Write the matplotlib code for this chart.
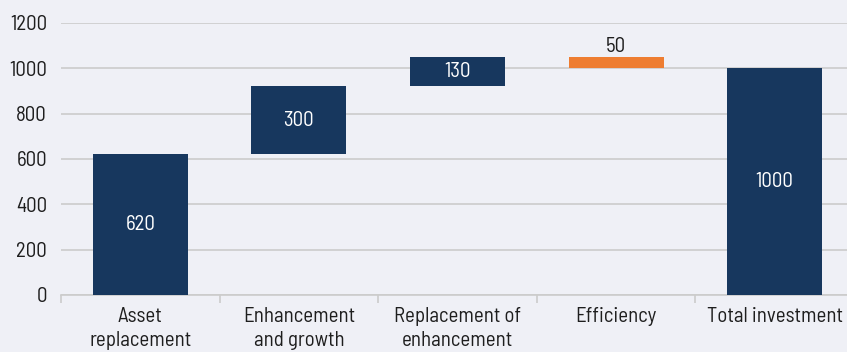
import matplotlib
matplotlib.use("Agg")
import matplotlib.pyplot as plt
import numpy as np

plt.rcParams['font.family'] = ['Barlow Semi Condensed', 'Roboto Condensed', 'DejaVu Sans']

categories = ["Asset\nreplacement", "Enhancement\nand growth", "Replacement of\nenhancement",
              "Efficiency", "Total investment"]
changes = [620, 300, 130, -50]
total = 1000
yticks = [0, 200, 400, 600, 800, 1000, 1200]

navy = "#17375e"
orange = "#ee7d31"
bg = "#eff0f6"
grid = "#cbcbcb"
ink = "#1e1e1e"

fig = plt.figure(figsize=(8.47, 3.52), dpi=100, facecolor=bg)
ax = fig.add_axes([61 / 847, 57 / 352, 793 / 847, 272 / 352], facecolor=bg)

x = np.arange(len(categories))
bottoms, heights, colors = [], [], []
running = 0
for c in changes:
    if c >= 0:
        bottoms.append(running)
        heights.append(c)
        colors.append(navy)
    else:
        bottoms.append(running + c)
        heights.append(-c)
        colors.append(orange)
    running += c
bottoms.append(0)
heights.append(total)
colors.append(navy)

ax.bar(x, heights, bottom=bottoms, width=0.6, color=colors, zorder=3)

values = changes + [total]
fs = 15
for xi, b, h, v, col in zip(x, bottoms, heights, values, colors):
    txt = f"{abs(v)}"
    if col == orange:
        ax.text(xi, b + h + 6, txt, ha="center", va="bottom", fontsize=fs, color=ink, zorder=4)
    else:
        ax.text(xi, b + h / 2, txt, ha="center", va="center", fontsize=fs, color="white", zorder=4)

ax.set_xlim(-0.5, len(categories) - 0.5)
ax.set_ylim(0, 1200)
ax.set_yticks(yticks)
ax.set_yticklabels([str(t) for t in yticks], fontsize=fs, color=ink)
ax.tick_params(axis="y", length=0, pad=10)
ax.yaxis.grid(True, color=grid, linewidth=1.2, zorder=0)
ax.set_axisbelow(True)

ax.set_xticks(x)
ax.set_xticklabels(categories, fontsize=fs, color=ink, linespacing=1.3)
ax.tick_params(axis="x", which="major", length=0, pad=9)
ax.set_xticks(np.arange(-0.5, len(categories), 1.0), minor=True)
ax.tick_params(axis="x", which="minor", length=6, color=grid, width=1.2)

for s in ["left", "right", "top"]:
    ax.spines[s].set_visible(False)
ax.spines["bottom"].set_color(grid)
ax.spines["bottom"].set_linewidth(1.2)

fig.savefig("out.png", dpi=100, facecolor=bg)
